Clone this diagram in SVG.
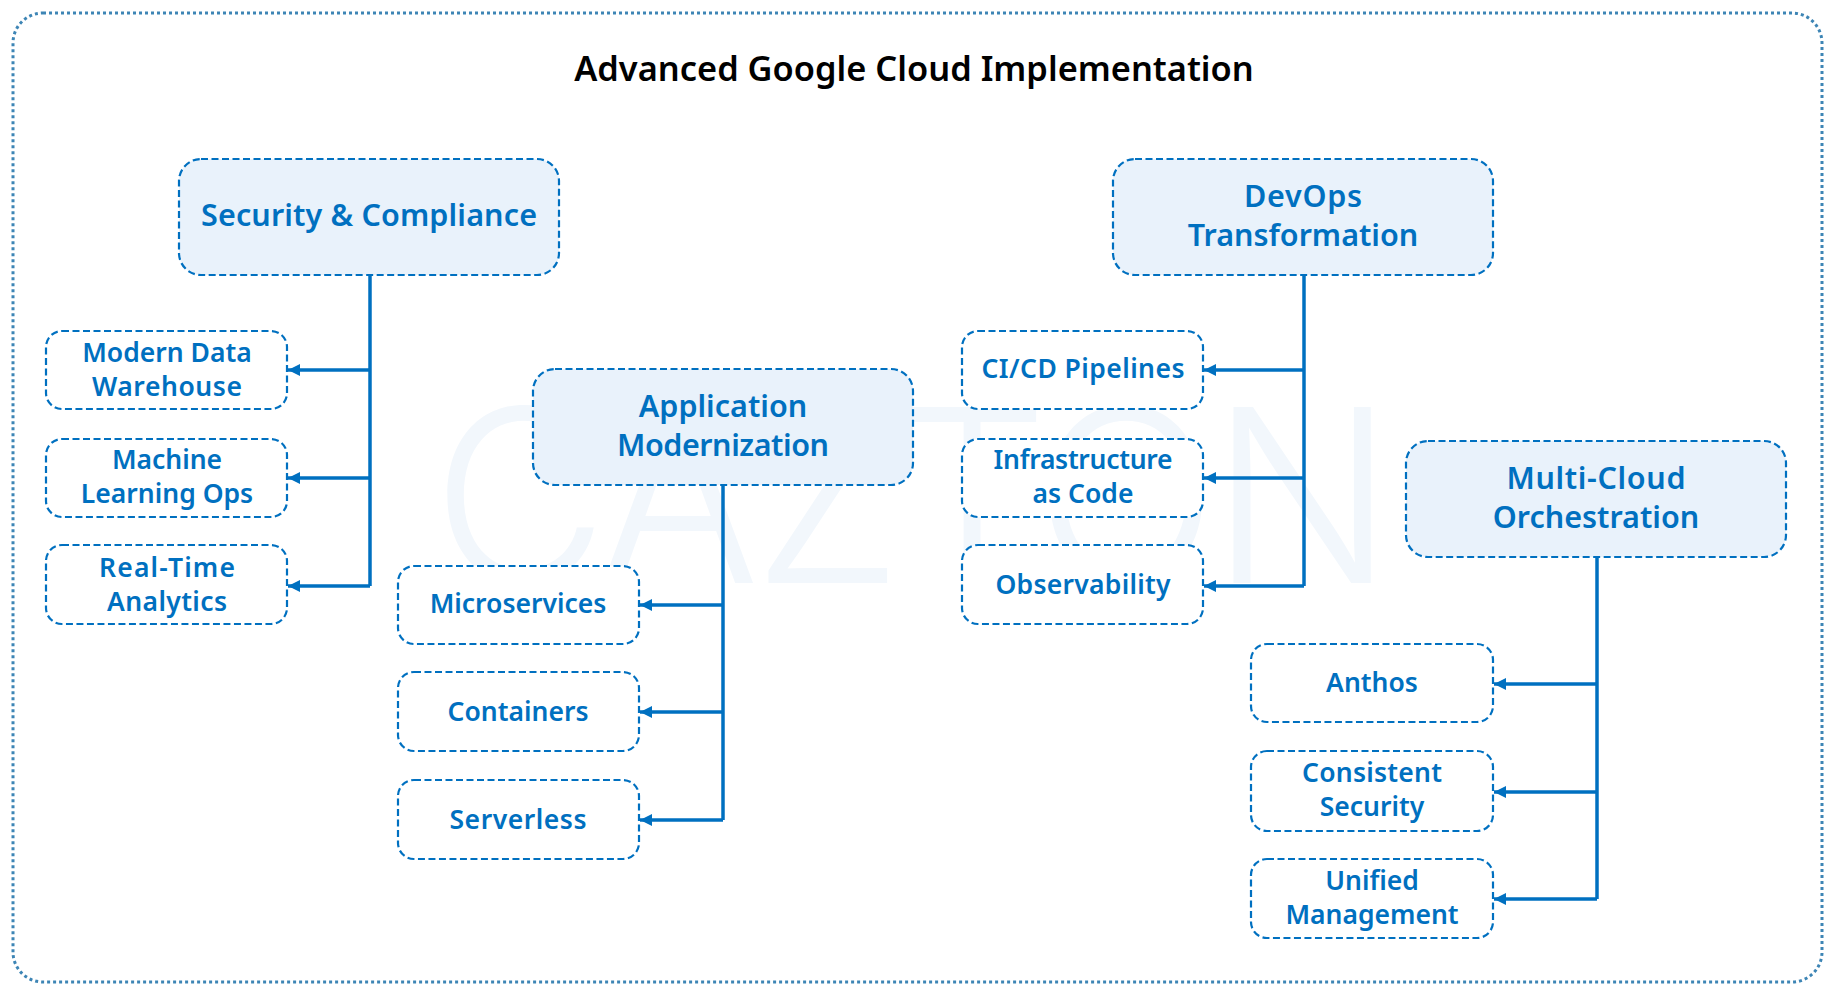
<svg xmlns="http://www.w3.org/2000/svg" width="1833" height="994" viewBox="0 0 1833 994">
<style>
.t{font-family:"Noto Sans","Open Sans",sans-serif;font-weight:600;fill:#0070c0;text-anchor:middle}
.b{font-size:30.5px}.s{font-size:26.5px}
.big{fill:#e9f2fb;stroke:#0070c0;stroke-width:2.2;stroke-dasharray:7 3.5}
.sm{fill:#fff;stroke:#0070c0;stroke-width:2.2;stroke-dasharray:7 3.5}
.c{fill:none;stroke:#0070c0;stroke-width:3.5}
</style>
<defs><marker id="a" markerUnits="userSpaceOnUse" markerWidth="14" markerHeight="14" refX="13" refY="7" orient="auto"><path d="M1 1L13 7L1 13Z" fill="#0070c0"/></marker></defs>
<rect width="1833" height="994" fill="#fff"/>
<rect id="frame" x="13" y="13" width="1809" height="969" rx="30" fill="none" stroke="#3d85b5" stroke-width="3" stroke-dasharray="3 3"/>
<text id="watermark" x="913" y="583" font-family="Inter,sans-serif" font-weight="300" font-size="242" fill="#f2f7fc" text-anchor="middle" textLength="962" lengthAdjust="spacing">CAZTON</text>
<text id="title" x="914" y="81" font-family="'Noto Sans',sans-serif" font-weight="600" font-size="34.4" fill="#000" text-anchor="middle">Advanced Google Cloud Implementation</text>
<g id="n1"><rect class="big" x="179" y="159" width="380" height="116" rx="22"/><text class="t b" x="369" y="226" textLength="336">Security &amp; Compliance</text></g>
<g id="n2"><rect class="sm" x="46" y="331" width="241" height="78" rx="16"/><text class="t s" x="167" y="362">Modern Data</text><text class="t s" x="167" y="396" textLength="150">Warehouse</text></g>
<g id="n3"><rect class="sm" x="46" y="439" width="241" height="78" rx="16"/><text class="t s" x="167" y="469">Machine</text><text class="t s" x="167" y="503">Learning Ops</text></g>
<g id="n4"><rect class="sm" x="46" y="545" width="241" height="79" rx="16"/><text class="t s" x="167" y="577" textLength="136">Real-Time</text><text class="t s" x="167" y="611" textLength="120">Analytics</text></g>
<g id="n5"><rect class="big" x="533" y="369" width="380" height="116" rx="22"/><text class="t b" x="723" y="417">Application</text><text class="t b" x="723" y="456" textLength="212">Modernization</text></g>
<g id="n6"><rect class="sm" x="398" y="566" width="241" height="78" rx="16"/><text class="t s" x="518" y="613">Microservices</text></g>
<g id="n7"><rect class="sm" x="398" y="672" width="241" height="79" rx="16"/><text class="t s" x="518" y="721">Containers</text></g>
<g id="n8"><rect class="sm" x="398" y="780" width="241" height="79" rx="16"/><text class="t s" x="518" y="829" textLength="137">Serverless</text></g>
<g id="n9"><rect class="big" x="1113" y="159" width="380" height="116" rx="22"/><text class="t b" x="1303" y="207" textLength="118">DevOps</text><text class="t b" x="1303" y="246">Transformation</text></g>
<g id="n10"><rect class="sm" x="962" y="331" width="241" height="78" rx="16"/><text class="t s" x="1083" y="378" textLength="203">CI/CD Pipelines</text></g>
<g id="n11"><rect class="sm" x="962" y="439" width="241" height="78" rx="16"/><text class="t s" x="1083" y="469" textLength="179">Infrastructure</text><text class="t s" x="1083" y="503">as Code</text></g>
<g id="n12"><rect class="sm" x="962" y="545" width="241" height="79" rx="16"/><text class="t s" x="1083" y="594" textLength="175">Observability</text></g>
<g id="n13"><rect class="big" x="1406" y="441" width="380" height="116" rx="22"/><text class="t b" x="1596" y="489" textLength="179">Multi-Cloud</text><text class="t b" x="1596" y="528">Orchestration</text></g>
<g id="n14"><rect class="sm" x="1251" y="644" width="242" height="78" rx="16"/><text class="t s" x="1372" y="692">Anthos</text></g>
<g id="n15"><rect class="sm" x="1251" y="751" width="242" height="80" rx="16"/><text class="t s" x="1372" y="782" textLength="140">Consistent</text><text class="t s" x="1372" y="816">Security</text></g>
<g id="n16"><rect class="sm" x="1251" y="859" width="242" height="79" rx="16"/><text class="t s" x="1372" y="890">Unified</text><text class="t s" x="1372" y="924">Management</text></g>
<g id="connectors">
<path class="c" d="M370 275V586"/><path class="c" d="M370 370H288" marker-end="url(#a)"/><path class="c" d="M370 478H288" marker-end="url(#a)"/><path class="c" d="M370 586H288" marker-end="url(#a)"/>
<path class="c" d="M723 485V820"/><path class="c" d="M723 605H640" marker-end="url(#a)"/><path class="c" d="M723 712H640" marker-end="url(#a)"/><path class="c" d="M723 820H640" marker-end="url(#a)"/>
<path class="c" d="M1304 275V586"/><path class="c" d="M1304 370H1204" marker-end="url(#a)"/><path class="c" d="M1304 478H1204" marker-end="url(#a)"/><path class="c" d="M1304 586H1204" marker-end="url(#a)"/>
<path class="c" d="M1597 557V899"/><path class="c" d="M1597 684H1494" marker-end="url(#a)"/><path class="c" d="M1597 792H1494" marker-end="url(#a)"/><path class="c" d="M1597 899H1494" marker-end="url(#a)"/>
</g>
</svg>
